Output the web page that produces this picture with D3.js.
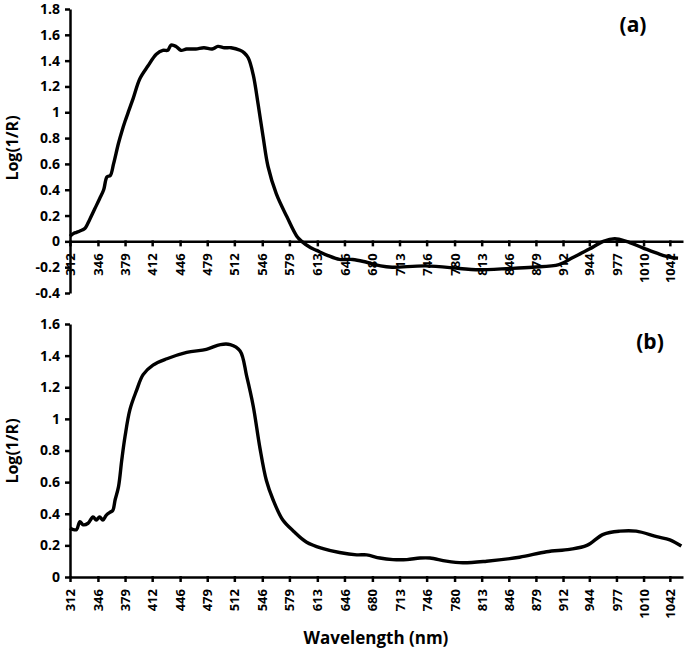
<!DOCTYPE html>
<html>
<head>
<meta charset="utf-8">
<script src="https://cdn.jsdelivr.net/npm/d3@7"></script>
<style>
  body { margin: 0; background: #fff; }
  svg text { font-family: "Open Sans", "DejaVu Sans", sans-serif; font-weight: 700; fill: #000; }
</style>
</head>
<body>
<div id="chart"></div>
<script>
// wavelength tick labels (nm)
var xTicks = [312, 346, 379, 412, 446, 479, 512, 546, 579, 613, 646, 680, 713, 746, 780, 813, 846, 879, 912, 944, 977, 1010, 1042];

// panel (a)
var waveA = [312, 316, 320, 324, 330, 336, 342, 348, 353, 357, 361, 365, 371, 375, 379, 384, 389, 397, 407, 417,
             425, 431, 435, 441, 447, 454, 465, 475, 485, 492, 500, 508, 519, 524, 529, 535, 541, 547, 553, 563,
             576, 588, 594, 605, 612, 626, 640, 656, 672, 690, 704, 745, 786, 806, 847, 875, 907, 924, 944, 961,
             975, 989, 1009, 1030, 1044, 1052];
var valA  = [0.04, 0.06, 0.07, 0.08, 0.10, 0.17, 0.25, 0.33, 0.40, 0.50, 0.51, 0.60, 0.76, 0.85, 0.93, 1.02, 1.11, 1.26, 1.36, 1.45,
             1.48, 1.48, 1.52, 1.51, 1.48, 1.49, 1.49, 1.50, 1.49, 1.51, 1.50, 1.50, 1.48, 1.46, 1.42, 1.29, 1.06, 0.81, 0.58, 0.37,
             0.19, 0.04, 0.0, -0.05, -0.07, -0.11, -0.14, -0.14, -0.16, -0.19, -0.20, -0.19, -0.21, -0.22, -0.21, -0.20, -0.18, -0.125, -0.06, 0.0,
             0.02, 0.0, -0.05, -0.10, -0.125, -0.13];
var yTicksA = [-0.4, -0.2, 0, 0.2, 0.4, 0.6, 0.8, 1, 1.2, 1.4, 1.6, 1.8];

// panel (b)
var waveB = [312, 316, 320, 324, 328, 334, 340, 344, 348, 352, 356, 361, 364, 367, 371, 375, 379, 385, 393, 401,
             413, 430, 454, 478, 495, 507, 519, 527, 535, 543, 551, 559, 571, 584, 600, 620, 640, 661, 673, 689,
             705, 722, 738, 750, 770, 790, 819, 859, 892, 920, 941, 961, 981, 1001, 1026, 1042, 1056];
var valB  = [0.31, 0.30, 0.30, 0.35, 0.33, 0.34, 0.38, 0.36, 0.38, 0.36, 0.39, 0.41, 0.42, 0.49, 0.57, 0.74, 0.89, 1.06, 1.18, 1.28,
             1.34, 1.38, 1.42, 1.44, 1.47, 1.47, 1.43, 1.27, 1.08, 0.82, 0.61, 0.49, 0.36, 0.29, 0.22, 0.18, 0.155, 0.14, 0.14, 0.12,
             0.11, 0.11, 0.12, 0.12, 0.10, 0.09, 0.10, 0.125, 0.16, 0.175, 0.20, 0.27, 0.29, 0.29, 0.255, 0.235, 0.196];
var yTicksB = [0, 0.2, 0.4, 0.6, 0.8, 1, 1.2, 1.4, 1.6];

var width = 685, height = 649;
var svg = d3.select("#chart").append("svg")
    .attr("width", width)
    .attr("height", height);

var x = d3.scaleLinear().domain([312, 1058]).range([70, 683]);

function panel(waves, vals, yTicks, yDomain, yRange, tag, tagPos, titleY) {
    var y = d3.scaleLinear().domain(yDomain).range(yRange);
    var g = svg.append("g");

    // y axis
    var ya = g.append("g")
        .attr("transform", "translate(" + x.range()[0] + ",0)")
        .call(d3.axisLeft(y).tickValues(yTicks).tickSize(5).tickSizeOuter(0)
              .tickFormat(function(d) { return String(+d.toFixed(1)); }));
    ya.select(".domain").attr("stroke", "#000").attr("stroke-width", 2.5);
    ya.selectAll(".tick line").attr("stroke", "#000").attr("stroke-width", 2.5);
    ya.selectAll(".tick text").attr("x", -10).style("font-size", "14px");

    // x axis at zero
    var xa = g.append("g")
        .attr("transform", "translate(0," + y(0) + ")")
        .call(d3.axisBottom(x).tickValues(xTicks).tickSize(5).tickSizeOuter(0)
              .tickFormat(function(d) { return String(d); }));
    xa.select(".domain").attr("stroke", "#000").attr("stroke-width", 2.5);
    xa.selectAll(".tick line").attr("stroke", "#000").attr("stroke-width", 2.5).attr("y1", -1);
    xa.selectAll(".tick text")
        .attr("transform", "rotate(-90)")
        .attr("x", -12)
        .attr("y", 0)
        .attr("dy", "0.35em")
        .attr("text-anchor", "end")
        .style("font-size", "13px");

    // curve
    var data = waves.map(function(w, i) { return [w, vals[i]]; });
    var line = d3.line()
        .x(function(d) { return x(d[0]); })
        .y(function(d) { return y(d[1]); })
        .curve(d3.curveCatmullRom.alpha(0.5));
    g.append("path")
        .datum(data)
        .attr("fill", "none")
        .attr("stroke", "#000")
        .attr("stroke-width", 3.4)
        .attr("stroke-linejoin", "round")
        .attr("d", line);

    // y title
    g.append("text")
        .attr("transform", "translate(18," + titleY + ") rotate(-90)")
        .attr("text-anchor", "middle")
        .style("font-size", "16px")
        .text("Log(1/R)");

    // panel tag
    g.append("text")
        .attr("x", tagPos[0])
        .attr("y", tagPos[1])
        .attr("text-anchor", "middle")
        .style("font-size", "21px")
        .text(tag);
}

panel(waveA, valA, yTicksA, [-0.4, 1.8], [293, 9], "(a)", [633, 32], 148);
panel(waveB, valB, yTicksB, [0, 1.6], [577, 324], "(b)", [650, 349], 451);

svg.append("text")
    .attr("x", 376)
    .attr("y", 644)
    .attr("text-anchor", "middle")
    .style("font-size", "17px")
    .text("Wavelength (nm)");
</script>
</body>
</html>
